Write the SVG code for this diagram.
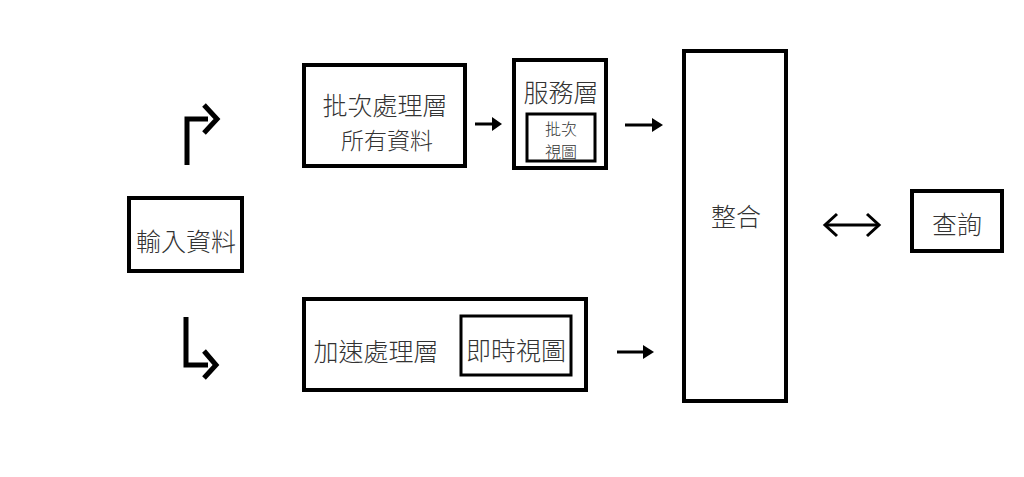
<svg xmlns="http://www.w3.org/2000/svg" width="1024" height="477" viewBox="0 0 1024 477">
<defs>
<style>
.box{fill:#fff;stroke:#000;stroke-width:4}
.inner{fill:#fff;stroke:#000;stroke-width:3}
.t{font-family:"Noto Sans CJK TC","Noto Sans CJK SC",sans-serif;font-weight:300;fill:#333;text-anchor:middle;dominant-baseline:central}
.c{fill:none;stroke:#000;stroke-width:3}
.ah{fill:#000}
</style>
</defs>
<rect width="1024" height="477" fill="#fff"/>
<g id="input"><rect class="box" x="129" y="198" width="113" height="73"/><text class="t" x="186" y="240" font-size="25">輸入資料</text></g>
<g id="batch"><rect class="box" x="304" y="65" width="161" height="101"/><text class="t" x="385" y="104" font-size="25">批次處理層</text><text class="t" x="387" y="139" font-size="23">所有資料</text></g>
<g id="serving"><rect class="box" x="514" y="60" width="92" height="108"/><text class="t" x="561" y="91" font-size="25">服務層</text><rect class="inner" x="527" y="114" width="68" height="47"/><text class="t" x="561" y="127.5" font-size="16">批次</text><text class="t" x="561" y="151" font-size="16">視圖</text></g>
<g id="speed"><rect class="box" x="304" y="299" width="282" height="91"/><text class="t" x="376" y="350" font-size="25">加速處理層</text><rect class="inner" x="461" y="316" width="110" height="59"/><text class="t" x="516" y="349" font-size="25">即時視圖</text></g>
<g id="merge"><rect class="box" x="684" y="51" width="102" height="350"/><text class="t" x="736" y="215" font-size="25">整合</text></g>
<g id="query"><rect class="box" x="912" y="191" width="90" height="60"/><text class="t" x="957" y="223" font-size="25">查詢</text></g>
<g id="connectors">
<path d="M187 165V119H208" fill="none" stroke="#000" stroke-width="5"/>
<path d="M204 105L217 119L204 133" fill="none" stroke="#000" stroke-width="5"/>
<path d="M186 317V365H208" fill="none" stroke="#000" stroke-width="5"/>
<path d="M204 351L216 365L204 378" fill="none" stroke="#000" stroke-width="5"/>
<path class="c" d="M475 124H494"/><path class="ah" d="M492 117L502 124L492 131Z"/>
<path class="c" d="M625 125H654"/><path class="ah" d="M652 118L663 125L652 132Z"/>
<path class="c" d="M617 352H645"/><path class="ah" d="M643 345L654 352L643 359Z"/>
<path class="c" d="M826 225H878" stroke-width="2.5"/>
<path class="c" d="M837 214L825 225L837 236" stroke-width="2.5"/>
<path class="c" d="M867 214L879 225L867 236" stroke-width="2.5"/>
</g>
</svg>
